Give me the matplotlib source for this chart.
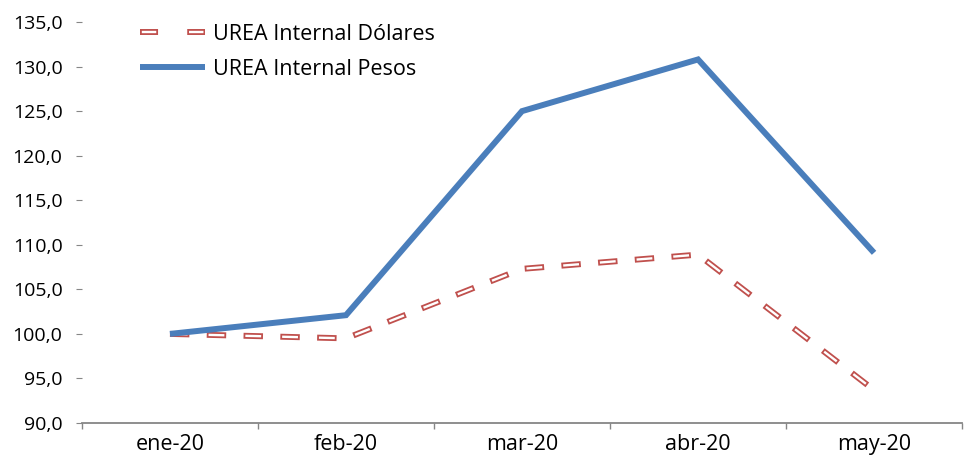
import matplotlib
matplotlib.use("Agg")
import matplotlib.pyplot as plt
from matplotlib.lines import Line2D
from matplotlib.legend_handler import HandlerTuple
import numpy as np

categories = ["ene-20", "feb-20", "mar-20", "abr-20", "may-20"]
dolares = [100.0, 99.5, 107.3, 108.9, 93.7]
pesos = [100.0, 102.1, 125.0, 130.8, 109.1]
yticks = [90, 95, 100, 105, 110, 115, 120, 125, 130, 135]

plt.rcParams['font.family'] = ['Open Sans', 'DejaVu Sans']
plt.rcParams['lines.scale_dashes'] = False

RED = "#C0504D"
BLUE = "#4A7EBB"
GREY = "#868686"

fig = plt.figure(figsize=(9.64, 4.55), dpi=100)
ax = fig.add_axes([0.085, 0.0703, 0.913, 0.8813])

x = np.arange(len(categories))
on, off, b = 14.0, 12.5, 1.3
outer_ls = (0, (on, off))
inner_ls = (on + off - b, (on - 2 * b, off + 2 * b))

ax.plot(x, dolares, color=RED, lw=4.3, linestyle=outer_ls, dash_capstyle='butt', zorder=2)
ax.plot(x, dolares, color="white", lw=1.7, linestyle=inner_ls, dash_capstyle='butt', zorder=2.1)
ax.plot(x, pesos, color=BLUE, lw=4.3, solid_capstyle='butt', solid_joinstyle='miter', zorder=3)

ax.set_xlim(-0.5, len(categories) - 0.5)
ax.set_ylim(90, 135)
ax.set_yticks(yticks)
ax.set_yticklabels([f"{v:.1f}".replace(".", ",") for v in yticks], fontsize=14)
ax.set_xticks(x)
ax.set_xticklabels(categories, fontsize=15.5)
ax.set_xticks(np.arange(-0.5, len(categories), 1.0), minor=True)

for s in ["top", "right", "left"]:
    ax.spines[s].set_visible(False)
ax.spines["bottom"].set_color(GREY)
ax.spines["bottom"].set_linewidth(1.3)

ax.tick_params(axis='x', which='major', length=0, pad=8, colors="black")
ax.tick_params(axis='x', which='minor', length=4, width=1.0, color=GREY, direction='out')
ax.tick_params(axis='y', which='major', length=4, width=0.8, color=GREY, pad=10, labelcolor="black")

leg_on, leg_off = 13.0, 21.0
l_outer = (0, (leg_on, leg_off))
l_inner = (leg_on + leg_off - b, (leg_on - 2 * b, leg_off + 2 * b))
h_red_outer = Line2D([], [], color=RED, lw=4.3, linestyle=l_outer, dash_capstyle='butt')
h_red_inner = Line2D([], [], color="white", lw=1.7, linestyle=l_inner, dash_capstyle='butt')
h_blue = Line2D([], [], color=BLUE, lw=4.3, solid_capstyle='butt')
leg = ax.legend([(h_red_outer, h_red_inner), h_blue],
                ["UREA Internal Dólares", "UREA Internal Pesos"],
                handler_map={tuple: HandlerTuple(ndivide=1, pad=0)},
                loc='upper left', bbox_to_anchor=(0.044, 1.044), frameon=False,
                fontsize=15.5, handlelength=3.02, handletextpad=0.37, labelspacing=0.64)

fig.savefig("out.png", dpi=100, facecolor="white")
